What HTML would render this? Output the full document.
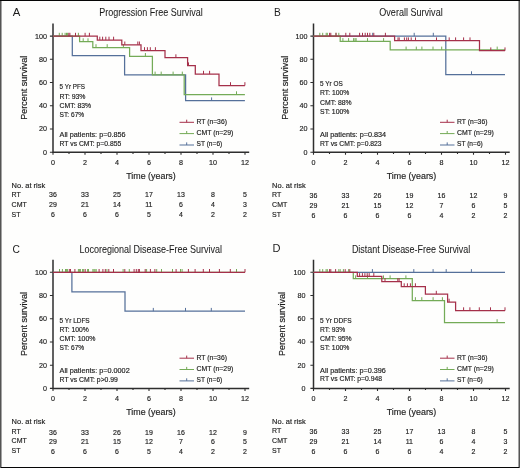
<!DOCTYPE html><html><head><meta charset="utf-8"><style>html,body{margin:0;padding:0;background:#fefefd;}svg{display:block;will-change:transform;}text{font-family:"Liberation Sans", sans-serif;}</style></head><body>
<svg width="520" height="468" viewBox="0 0 520 468">
<rect x="0" y="0" width="520" height="468" fill="#fefefd"/>
<text x="12.7" y="15.9" font-size="11" text-anchor="start" textLength="7.6" lengthAdjust="spacingAndGlyphs" fill="#1c1c1c" stroke="#1c1c1c" stroke-width="0">A</text>
<text x="151" y="16.3" font-size="10.2" text-anchor="middle" textLength="103.4" lengthAdjust="spacingAndGlyphs" fill="#1c1c1c" stroke="#1c1c1c" stroke-width="0.05">Progression Free Survival</text>
<path d="M53 23.6V152.2H249.2" fill="none" stroke="#2e2e2e" stroke-width="1.5"/>
<path d="M49.9 152.2H53M49.9 128.98H53M49.9 105.76H53M49.9 82.54H53M49.9 59.32H53M49.9 36.1H53M53 152.2v2.6M69 152.2v1.7M85 152.2v2.6M101 152.2v1.7M117 152.2v2.6M133 152.2v1.7M149 152.2v2.6M165 152.2v1.7M181 152.2v2.6M197 152.2v1.7M213 152.2v2.6M229 152.2v1.7M245 152.2v2.6" fill="none" stroke="#2e2e2e" stroke-width="1.1"/>
<text x="47" y="154.7" font-size="8.1" text-anchor="end" textLength="4" lengthAdjust="spacingAndGlyphs" fill="#1c1c1c" stroke="#1c1c1c" stroke-width="0.17">0</text>
<text x="47" y="131.48" font-size="8.1" text-anchor="end" textLength="8.01" lengthAdjust="spacingAndGlyphs" fill="#1c1c1c" stroke="#1c1c1c" stroke-width="0.17">20</text>
<text x="47" y="108.26" font-size="8.1" text-anchor="end" textLength="8.01" lengthAdjust="spacingAndGlyphs" fill="#1c1c1c" stroke="#1c1c1c" stroke-width="0.17">40</text>
<text x="47" y="85.04" font-size="8.1" text-anchor="end" textLength="8.01" lengthAdjust="spacingAndGlyphs" fill="#1c1c1c" stroke="#1c1c1c" stroke-width="0.17">60</text>
<text x="47" y="61.82" font-size="8.1" text-anchor="end" textLength="8.01" lengthAdjust="spacingAndGlyphs" fill="#1c1c1c" stroke="#1c1c1c" stroke-width="0.17">80</text>
<text x="47" y="38.6" font-size="8.1" text-anchor="end" textLength="12.01" lengthAdjust="spacingAndGlyphs" fill="#1c1c1c" stroke="#1c1c1c" stroke-width="0.17">100</text>
<text x="53" y="165.1" font-size="8.1" text-anchor="middle" textLength="4" lengthAdjust="spacingAndGlyphs" fill="#1c1c1c" stroke="#1c1c1c" stroke-width="0.17">0</text>
<text x="85" y="165.1" font-size="8.1" text-anchor="middle" textLength="4" lengthAdjust="spacingAndGlyphs" fill="#1c1c1c" stroke="#1c1c1c" stroke-width="0.17">2</text>
<text x="117" y="165.1" font-size="8.1" text-anchor="middle" textLength="4" lengthAdjust="spacingAndGlyphs" fill="#1c1c1c" stroke="#1c1c1c" stroke-width="0.17">4</text>
<text x="149" y="165.1" font-size="8.1" text-anchor="middle" textLength="4" lengthAdjust="spacingAndGlyphs" fill="#1c1c1c" stroke="#1c1c1c" stroke-width="0.17">6</text>
<text x="181" y="165.1" font-size="8.1" text-anchor="middle" textLength="4" lengthAdjust="spacingAndGlyphs" fill="#1c1c1c" stroke="#1c1c1c" stroke-width="0.17">8</text>
<text x="213" y="165.1" font-size="8.1" text-anchor="middle" textLength="8.01" lengthAdjust="spacingAndGlyphs" fill="#1c1c1c" stroke="#1c1c1c" stroke-width="0.17">10</text>
<text x="245" y="165.1" font-size="8.1" text-anchor="middle" textLength="8.01" lengthAdjust="spacingAndGlyphs" fill="#1c1c1c" stroke="#1c1c1c" stroke-width="0.17">12</text>
<text x="151" y="178.5" font-size="9.4" text-anchor="middle" textLength="49.5" lengthAdjust="spacingAndGlyphs" fill="#1c1c1c" stroke="#1c1c1c" stroke-width="0.17">Time (years)</text>
<text x="0" y="0" font-size="9.4" text-anchor="middle" fill="#1c1c1c" stroke="#1c1c1c" stroke-width="0.17" textLength="64" lengthAdjust="spacingAndGlyphs" transform="translate(27 87.8) rotate(-90)">Percent survival</text>
<path d="M52.9 36.1H72.3V55.7H124.6V74.9H185.6V100.7H244.9" fill="none" stroke="#55709a" stroke-width="1.25"/>
<path d="M211.6 100.7v-3.3" fill="none" stroke="#55709a" stroke-width="1.0"/>
<path d="M52.9 36.1H79.6V41.6H92.8V47.5H129.6V56.3H152.4V74.9H184.2V94.6H244.9" fill="none" stroke="#74ab57" stroke-width="1.25"/>
<path d="M59.3 36.1v-3.3M62.2 36.1v-3.3M65.1 36.1v-3.3M66.5 36.1v-3.3M67.6 36.1v-3.3M78.4 36.1v-3.3M83.2 41.6v-3.3M88 41.6v-3.3M96 47.5v-3.3M107.2 47.5v-3.3M123.4 47.5v-3.3M145.4 56.3v-3.3M155.1 74.9v-3.3M161.2 74.9v-3.3M173.1 74.9v-3.3M182.3 74.9v-3.3M236.5 94.6v-3.3" fill="none" stroke="#74ab57" stroke-width="1.0"/>
<path d="M52.9 36.1H97.3V40H121.8V44.8H141V50.5H165V57.6H187.6V65.7H195.3V74.1H219V85.5H244.9" fill="none" stroke="#a5304a" stroke-width="1.25"/>
<path d="M68.8 36.1v-3.3M69.9 36.1v-3.3M75.5 36.1v-3.3M85.1 36.1v-3.3M89.4 36.1v-3.3M99.8 40v-3.3M102.6 40v-3.3M105.8 40v-3.3M109 40v-3.3M113.6 40v-3.3M124.8 44.8v-3.3M137.8 44.8v-3.3M139.4 44.8v-3.3M144.5 50.5v-3.3M147.4 50.5v-3.3M150.3 50.5v-3.3M155.4 50.5v-3.3M175.9 57.6v-3.3M188.5 65.7v-3.3M203.5 74.1v-3.3M209.6 74.1v-3.3M230.5 85.5v-3.3M244.9 85.5v-3.3" fill="none" stroke="#a5304a" stroke-width="1.0"/>
<text x="59.6" y="89.1" font-size="7.4" text-anchor="start" textLength="25.4" lengthAdjust="spacingAndGlyphs" fill="#1c1c1c" stroke="#1c1c1c" stroke-width="0.17">5 Yr PFS</text>
<text x="59.6" y="98.5" font-size="7.4" text-anchor="start" textLength="25.9" lengthAdjust="spacingAndGlyphs" fill="#1c1c1c" stroke="#1c1c1c" stroke-width="0.17">RT: 93%</text>
<text x="59.6" y="107.5" font-size="7.4" text-anchor="start" textLength="31.5" lengthAdjust="spacingAndGlyphs" fill="#1c1c1c" stroke="#1c1c1c" stroke-width="0.17">CMT: 83%</text>
<text x="59.6" y="116.5" font-size="7.4" text-anchor="start" textLength="24.6" lengthAdjust="spacingAndGlyphs" fill="#1c1c1c" stroke="#1c1c1c" stroke-width="0.17">ST: 67%</text>
<text x="59.6" y="137.2" font-size="7.4" text-anchor="start" textLength="66" lengthAdjust="spacingAndGlyphs" fill="#1c1c1c" stroke="#1c1c1c" stroke-width="0.17">All patients: p=0.856</text>
<text x="59.6" y="145.8" font-size="7.4" text-anchor="start" textLength="61.7" lengthAdjust="spacingAndGlyphs" fill="#1c1c1c" stroke="#1c1c1c" stroke-width="0.17">RT vs CMT: p=0.855</text>
<path d="M179.5 122.3H194M186.7 122.3v-2.6" fill="none" stroke="#a5304a" stroke-width="1.0"/>
<text x="196.5" y="123.6" font-size="7.3" text-anchor="start" textLength="30.4" lengthAdjust="spacingAndGlyphs" fill="#1c1c1c" stroke="#1c1c1c" stroke-width="0.17">RT (n=36)</text>
<path d="M179.5 133.6H194M186.7 133.6v-2.6" fill="none" stroke="#74ab57" stroke-width="1.0"/>
<text x="196.5" y="135" font-size="7.3" text-anchor="start" textLength="36.8" lengthAdjust="spacingAndGlyphs" fill="#1c1c1c" stroke="#1c1c1c" stroke-width="0.17">CMT (n=29)</text>
<path d="M179.5 145H194M186.7 145v-2.6" fill="none" stroke="#55709a" stroke-width="1.0"/>
<text x="196.5" y="146.4" font-size="7.3" text-anchor="start" textLength="25.8" lengthAdjust="spacingAndGlyphs" fill="#1c1c1c" stroke="#1c1c1c" stroke-width="0.17">ST (n=6)</text>
<text x="11.6" y="187.6" font-size="8" text-anchor="start" textLength="33.6" lengthAdjust="spacingAndGlyphs" fill="#1c1c1c" stroke="#1c1c1c" stroke-width="0.17">No. at risk</text>
<text x="11.6" y="197" font-size="8" text-anchor="start" textLength="9.2" lengthAdjust="spacingAndGlyphs" fill="#1c1c1c" stroke="#1c1c1c" stroke-width="0.17">RT</text>
<text x="52.9" y="197" font-size="8" text-anchor="middle" textLength="7.79" lengthAdjust="spacingAndGlyphs" fill="#1c1c1c" stroke="#1c1c1c" stroke-width="0.17">36</text>
<text x="84.9" y="197" font-size="8" text-anchor="middle" textLength="7.79" lengthAdjust="spacingAndGlyphs" fill="#1c1c1c" stroke="#1c1c1c" stroke-width="0.17">33</text>
<text x="116.9" y="197" font-size="8" text-anchor="middle" textLength="7.79" lengthAdjust="spacingAndGlyphs" fill="#1c1c1c" stroke="#1c1c1c" stroke-width="0.17">25</text>
<text x="148.9" y="197" font-size="8" text-anchor="middle" textLength="7.79" lengthAdjust="spacingAndGlyphs" fill="#1c1c1c" stroke="#1c1c1c" stroke-width="0.17">17</text>
<text x="180.9" y="197" font-size="8" text-anchor="middle" textLength="7.79" lengthAdjust="spacingAndGlyphs" fill="#1c1c1c" stroke="#1c1c1c" stroke-width="0.17">13</text>
<text x="212.9" y="197" font-size="8" text-anchor="middle" textLength="3.89" lengthAdjust="spacingAndGlyphs" fill="#1c1c1c" stroke="#1c1c1c" stroke-width="0.17">8</text>
<text x="244.9" y="197" font-size="8" text-anchor="middle" textLength="3.89" lengthAdjust="spacingAndGlyphs" fill="#1c1c1c" stroke="#1c1c1c" stroke-width="0.17">5</text>
<text x="11.6" y="206.9" font-size="8" text-anchor="start" textLength="15.16" lengthAdjust="spacingAndGlyphs" fill="#1c1c1c" stroke="#1c1c1c" stroke-width="0.17">CMT</text>
<text x="52.9" y="206.9" font-size="8" text-anchor="middle" textLength="7.79" lengthAdjust="spacingAndGlyphs" fill="#1c1c1c" stroke="#1c1c1c" stroke-width="0.17">29</text>
<text x="84.9" y="206.9" font-size="8" text-anchor="middle" textLength="7.79" lengthAdjust="spacingAndGlyphs" fill="#1c1c1c" stroke="#1c1c1c" stroke-width="0.17">21</text>
<text x="116.9" y="206.9" font-size="8" text-anchor="middle" textLength="7.79" lengthAdjust="spacingAndGlyphs" fill="#1c1c1c" stroke="#1c1c1c" stroke-width="0.17">14</text>
<text x="148.9" y="206.9" font-size="8" text-anchor="middle" textLength="7.27" lengthAdjust="spacingAndGlyphs" fill="#1c1c1c" stroke="#1c1c1c" stroke-width="0.17">11</text>
<text x="180.9" y="206.9" font-size="8" text-anchor="middle" textLength="3.89" lengthAdjust="spacingAndGlyphs" fill="#1c1c1c" stroke="#1c1c1c" stroke-width="0.17">6</text>
<text x="212.9" y="206.9" font-size="8" text-anchor="middle" textLength="3.89" lengthAdjust="spacingAndGlyphs" fill="#1c1c1c" stroke="#1c1c1c" stroke-width="0.17">4</text>
<text x="244.9" y="206.9" font-size="8" text-anchor="middle" textLength="3.89" lengthAdjust="spacingAndGlyphs" fill="#1c1c1c" stroke="#1c1c1c" stroke-width="0.17">3</text>
<text x="11.6" y="216.6" font-size="8" text-anchor="start" textLength="8.94" lengthAdjust="spacingAndGlyphs" fill="#1c1c1c" stroke="#1c1c1c" stroke-width="0.17">ST</text>
<text x="52.9" y="216.6" font-size="8" text-anchor="middle" textLength="3.89" lengthAdjust="spacingAndGlyphs" fill="#1c1c1c" stroke="#1c1c1c" stroke-width="0.17">6</text>
<text x="84.9" y="216.6" font-size="8" text-anchor="middle" textLength="3.89" lengthAdjust="spacingAndGlyphs" fill="#1c1c1c" stroke="#1c1c1c" stroke-width="0.17">6</text>
<text x="116.9" y="216.6" font-size="8" text-anchor="middle" textLength="3.89" lengthAdjust="spacingAndGlyphs" fill="#1c1c1c" stroke="#1c1c1c" stroke-width="0.17">6</text>
<text x="148.9" y="216.6" font-size="8" text-anchor="middle" textLength="3.89" lengthAdjust="spacingAndGlyphs" fill="#1c1c1c" stroke="#1c1c1c" stroke-width="0.17">5</text>
<text x="180.9" y="216.6" font-size="8" text-anchor="middle" textLength="3.89" lengthAdjust="spacingAndGlyphs" fill="#1c1c1c" stroke="#1c1c1c" stroke-width="0.17">4</text>
<text x="212.9" y="216.6" font-size="8" text-anchor="middle" textLength="3.89" lengthAdjust="spacingAndGlyphs" fill="#1c1c1c" stroke="#1c1c1c" stroke-width="0.17">2</text>
<text x="244.9" y="216.6" font-size="8" text-anchor="middle" textLength="3.89" lengthAdjust="spacingAndGlyphs" fill="#1c1c1c" stroke="#1c1c1c" stroke-width="0.17">2</text>
<text x="273.9" y="15.8" font-size="11" text-anchor="start" textLength="6.8" lengthAdjust="spacingAndGlyphs" fill="#1c1c1c" stroke="#1c1c1c" stroke-width="0">B</text>
<text x="411" y="16.3" font-size="10.2" text-anchor="middle" textLength="63.4" lengthAdjust="spacingAndGlyphs" fill="#1c1c1c" stroke="#1c1c1c" stroke-width="0.05">Overall Survival</text>
<path d="M313.5 23.6V152.2H509.7" fill="none" stroke="#2e2e2e" stroke-width="1.5"/>
<path d="M310.4 152.2H313.5M310.4 128.98H313.5M310.4 105.76H313.5M310.4 82.54H313.5M310.4 59.32H313.5M310.4 36.1H313.5M313.5 152.2v2.6M329.5 152.2v1.7M345.5 152.2v2.6M361.5 152.2v1.7M377.5 152.2v2.6M393.5 152.2v1.7M409.5 152.2v2.6M425.5 152.2v1.7M441.5 152.2v2.6M457.5 152.2v1.7M473.5 152.2v2.6M489.5 152.2v1.7M505.5 152.2v2.6" fill="none" stroke="#2e2e2e" stroke-width="1.1"/>
<text x="307.5" y="154.7" font-size="8.1" text-anchor="end" textLength="4" lengthAdjust="spacingAndGlyphs" fill="#1c1c1c" stroke="#1c1c1c" stroke-width="0.17">0</text>
<text x="307.5" y="131.48" font-size="8.1" text-anchor="end" textLength="8.01" lengthAdjust="spacingAndGlyphs" fill="#1c1c1c" stroke="#1c1c1c" stroke-width="0.17">20</text>
<text x="307.5" y="108.26" font-size="8.1" text-anchor="end" textLength="8.01" lengthAdjust="spacingAndGlyphs" fill="#1c1c1c" stroke="#1c1c1c" stroke-width="0.17">40</text>
<text x="307.5" y="85.04" font-size="8.1" text-anchor="end" textLength="8.01" lengthAdjust="spacingAndGlyphs" fill="#1c1c1c" stroke="#1c1c1c" stroke-width="0.17">60</text>
<text x="307.5" y="61.82" font-size="8.1" text-anchor="end" textLength="8.01" lengthAdjust="spacingAndGlyphs" fill="#1c1c1c" stroke="#1c1c1c" stroke-width="0.17">80</text>
<text x="307.5" y="38.6" font-size="8.1" text-anchor="end" textLength="12.01" lengthAdjust="spacingAndGlyphs" fill="#1c1c1c" stroke="#1c1c1c" stroke-width="0.17">100</text>
<text x="313.5" y="165.1" font-size="8.1" text-anchor="middle" textLength="4" lengthAdjust="spacingAndGlyphs" fill="#1c1c1c" stroke="#1c1c1c" stroke-width="0.17">0</text>
<text x="345.5" y="165.1" font-size="8.1" text-anchor="middle" textLength="4" lengthAdjust="spacingAndGlyphs" fill="#1c1c1c" stroke="#1c1c1c" stroke-width="0.17">2</text>
<text x="377.5" y="165.1" font-size="8.1" text-anchor="middle" textLength="4" lengthAdjust="spacingAndGlyphs" fill="#1c1c1c" stroke="#1c1c1c" stroke-width="0.17">4</text>
<text x="409.5" y="165.1" font-size="8.1" text-anchor="middle" textLength="4" lengthAdjust="spacingAndGlyphs" fill="#1c1c1c" stroke="#1c1c1c" stroke-width="0.17">6</text>
<text x="441.5" y="165.1" font-size="8.1" text-anchor="middle" textLength="4" lengthAdjust="spacingAndGlyphs" fill="#1c1c1c" stroke="#1c1c1c" stroke-width="0.17">8</text>
<text x="473.5" y="165.1" font-size="8.1" text-anchor="middle" textLength="8.01" lengthAdjust="spacingAndGlyphs" fill="#1c1c1c" stroke="#1c1c1c" stroke-width="0.17">10</text>
<text x="505.5" y="165.1" font-size="8.1" text-anchor="middle" textLength="8.01" lengthAdjust="spacingAndGlyphs" fill="#1c1c1c" stroke="#1c1c1c" stroke-width="0.17">12</text>
<text x="411.5" y="178.5" font-size="9.4" text-anchor="middle" textLength="49.5" lengthAdjust="spacingAndGlyphs" fill="#1c1c1c" stroke="#1c1c1c" stroke-width="0.17">Time (years)</text>
<text x="0" y="0" font-size="9.4" text-anchor="middle" fill="#1c1c1c" stroke="#1c1c1c" stroke-width="0.17" textLength="64" lengthAdjust="spacingAndGlyphs" transform="translate(287.5 87.8) rotate(-90)">Percent survival</text>
<path d="M313.4 36.1H445.8V74.6H505" fill="none" stroke="#55709a" stroke-width="1.25"/>
<path d="M372.7 36.1v-3.3M414.2 36.1v-3.3M433.3 36.1v-3.3M471.5 74.6v-3.3" fill="none" stroke="#55709a" stroke-width="1.0"/>
<path d="M313.4 36.1H340.2V41.4H390.2V49.9H505" fill="none" stroke="#74ab57" stroke-width="1.25"/>
<path d="M319.8 36.1v-3.3M322.7 36.1v-3.3M326.2 36.1v-3.3M327.3 36.1v-3.3M336 36.1v-3.3M338.8 36.1v-3.3M342.9 41.4v-3.3M348.6 41.4v-3.3M353.6 41.4v-3.3M355 41.4v-3.3M356.1 41.4v-3.3M367.5 41.4v-3.3M383.6 41.4v-3.3M406.1 49.9v-3.3M416.3 49.9v-3.3M421.9 49.9v-3.3M433 49.9v-3.3M441.7 49.9v-3.3M497.2 49.9v-3.3" fill="none" stroke="#74ab57" stroke-width="1.0"/>
<path d="M313.4 36.1H394.6V40.7H479.5V50.7H505" fill="none" stroke="#a5304a" stroke-width="1.25"/>
<path d="M329.6 36.1v-3.3M330.8 36.1v-3.3M336 36.1v-3.3M345.8 36.1v-3.3M349.8 36.1v-3.3M359.6 36.1v-3.3M362.5 36.1v-3.3M365.2 36.1v-3.3M367.5 36.1v-3.3M369.8 36.1v-3.3M373.8 36.1v-3.3M385.4 36.1v-3.3M398 40.7v-3.3M399.2 40.7v-3.3M404.4 40.7v-3.3M406.7 40.7v-3.3M408.4 40.7v-3.3M411.2 40.7v-3.3M415.5 40.7v-3.3M436.5 40.7v-3.3M449.2 40.7v-3.3M455.6 40.7v-3.3M463.6 40.7v-3.3M470 40.7v-3.3M490.8 50.7v-3.3M505 50.7v-3.3" fill="none" stroke="#a5304a" stroke-width="1.0"/>
<text x="320.1" y="86.2" font-size="7.4" text-anchor="start" textLength="22.7" lengthAdjust="spacingAndGlyphs" fill="#1c1c1c" stroke="#1c1c1c" stroke-width="0.17">5 Yr OS</text>
<text x="320.1" y="95.4" font-size="7.4" text-anchor="start" textLength="29.2" lengthAdjust="spacingAndGlyphs" fill="#1c1c1c" stroke="#1c1c1c" stroke-width="0.17">RT: 100%</text>
<text x="320.1" y="104.6" font-size="7.4" text-anchor="start" textLength="31.5" lengthAdjust="spacingAndGlyphs" fill="#1c1c1c" stroke="#1c1c1c" stroke-width="0.17">CMT: 88%</text>
<text x="320.1" y="113.8" font-size="7.4" text-anchor="start" textLength="29.2" lengthAdjust="spacingAndGlyphs" fill="#1c1c1c" stroke="#1c1c1c" stroke-width="0.17">ST: 100%</text>
<text x="320.1" y="136.7" font-size="7.4" text-anchor="start" textLength="66" lengthAdjust="spacingAndGlyphs" fill="#1c1c1c" stroke="#1c1c1c" stroke-width="0.17">All patients: p=0.834</text>
<text x="320.1" y="145.5" font-size="7.4" text-anchor="start" textLength="61.5" lengthAdjust="spacingAndGlyphs" fill="#1c1c1c" stroke="#1c1c1c" stroke-width="0.17">RT vs CMT: p=0.823</text>
<path d="M440 122.3H454.5M447.2 122.3v-2.6" fill="none" stroke="#a5304a" stroke-width="1.0"/>
<text x="457" y="123.6" font-size="7.3" text-anchor="start" textLength="30.4" lengthAdjust="spacingAndGlyphs" fill="#1c1c1c" stroke="#1c1c1c" stroke-width="0.17">RT (n=36)</text>
<path d="M440 133.6H454.5M447.2 133.6v-2.6" fill="none" stroke="#74ab57" stroke-width="1.0"/>
<text x="457" y="135" font-size="7.3" text-anchor="start" textLength="36.8" lengthAdjust="spacingAndGlyphs" fill="#1c1c1c" stroke="#1c1c1c" stroke-width="0.17">CMT (n=29)</text>
<path d="M440 145H454.5M447.2 145v-2.6" fill="none" stroke="#55709a" stroke-width="1.0"/>
<text x="457" y="146.4" font-size="7.3" text-anchor="start" textLength="25.8" lengthAdjust="spacingAndGlyphs" fill="#1c1c1c" stroke="#1c1c1c" stroke-width="0.17">ST (n=6)</text>
<text x="272.1" y="187.6" font-size="8" text-anchor="start" textLength="33.6" lengthAdjust="spacingAndGlyphs" fill="#1c1c1c" stroke="#1c1c1c" stroke-width="0.17">No. at risk</text>
<text x="272.1" y="197" font-size="8" text-anchor="start" textLength="9.2" lengthAdjust="spacingAndGlyphs" fill="#1c1c1c" stroke="#1c1c1c" stroke-width="0.17">RT</text>
<text x="313.4" y="198" font-size="8" text-anchor="middle" textLength="7.79" lengthAdjust="spacingAndGlyphs" fill="#1c1c1c" stroke="#1c1c1c" stroke-width="0.17">36</text>
<text x="345.4" y="198" font-size="8" text-anchor="middle" textLength="7.79" lengthAdjust="spacingAndGlyphs" fill="#1c1c1c" stroke="#1c1c1c" stroke-width="0.17">33</text>
<text x="377.4" y="198" font-size="8" text-anchor="middle" textLength="7.79" lengthAdjust="spacingAndGlyphs" fill="#1c1c1c" stroke="#1c1c1c" stroke-width="0.17">26</text>
<text x="409.4" y="198" font-size="8" text-anchor="middle" textLength="7.79" lengthAdjust="spacingAndGlyphs" fill="#1c1c1c" stroke="#1c1c1c" stroke-width="0.17">19</text>
<text x="441.4" y="198" font-size="8" text-anchor="middle" textLength="7.79" lengthAdjust="spacingAndGlyphs" fill="#1c1c1c" stroke="#1c1c1c" stroke-width="0.17">16</text>
<text x="473.4" y="198" font-size="8" text-anchor="middle" textLength="7.79" lengthAdjust="spacingAndGlyphs" fill="#1c1c1c" stroke="#1c1c1c" stroke-width="0.17">12</text>
<text x="505.4" y="198" font-size="8" text-anchor="middle" textLength="3.89" lengthAdjust="spacingAndGlyphs" fill="#1c1c1c" stroke="#1c1c1c" stroke-width="0.17">9</text>
<text x="272.1" y="206.9" font-size="8" text-anchor="start" textLength="15.16" lengthAdjust="spacingAndGlyphs" fill="#1c1c1c" stroke="#1c1c1c" stroke-width="0.17">CMT</text>
<text x="313.4" y="207.9" font-size="8" text-anchor="middle" textLength="7.79" lengthAdjust="spacingAndGlyphs" fill="#1c1c1c" stroke="#1c1c1c" stroke-width="0.17">29</text>
<text x="345.4" y="207.9" font-size="8" text-anchor="middle" textLength="7.79" lengthAdjust="spacingAndGlyphs" fill="#1c1c1c" stroke="#1c1c1c" stroke-width="0.17">21</text>
<text x="377.4" y="207.9" font-size="8" text-anchor="middle" textLength="7.79" lengthAdjust="spacingAndGlyphs" fill="#1c1c1c" stroke="#1c1c1c" stroke-width="0.17">15</text>
<text x="409.4" y="207.9" font-size="8" text-anchor="middle" textLength="7.79" lengthAdjust="spacingAndGlyphs" fill="#1c1c1c" stroke="#1c1c1c" stroke-width="0.17">12</text>
<text x="441.4" y="207.9" font-size="8" text-anchor="middle" textLength="3.89" lengthAdjust="spacingAndGlyphs" fill="#1c1c1c" stroke="#1c1c1c" stroke-width="0.17">7</text>
<text x="473.4" y="207.9" font-size="8" text-anchor="middle" textLength="3.89" lengthAdjust="spacingAndGlyphs" fill="#1c1c1c" stroke="#1c1c1c" stroke-width="0.17">6</text>
<text x="505.4" y="207.9" font-size="8" text-anchor="middle" textLength="3.89" lengthAdjust="spacingAndGlyphs" fill="#1c1c1c" stroke="#1c1c1c" stroke-width="0.17">5</text>
<text x="272.1" y="216.6" font-size="8" text-anchor="start" textLength="8.94" lengthAdjust="spacingAndGlyphs" fill="#1c1c1c" stroke="#1c1c1c" stroke-width="0.17">ST</text>
<text x="313.4" y="217.6" font-size="8" text-anchor="middle" textLength="3.89" lengthAdjust="spacingAndGlyphs" fill="#1c1c1c" stroke="#1c1c1c" stroke-width="0.17">6</text>
<text x="345.4" y="217.6" font-size="8" text-anchor="middle" textLength="3.89" lengthAdjust="spacingAndGlyphs" fill="#1c1c1c" stroke="#1c1c1c" stroke-width="0.17">6</text>
<text x="377.4" y="217.6" font-size="8" text-anchor="middle" textLength="3.89" lengthAdjust="spacingAndGlyphs" fill="#1c1c1c" stroke="#1c1c1c" stroke-width="0.17">6</text>
<text x="409.4" y="217.6" font-size="8" text-anchor="middle" textLength="3.89" lengthAdjust="spacingAndGlyphs" fill="#1c1c1c" stroke="#1c1c1c" stroke-width="0.17">6</text>
<text x="441.4" y="217.6" font-size="8" text-anchor="middle" textLength="3.89" lengthAdjust="spacingAndGlyphs" fill="#1c1c1c" stroke="#1c1c1c" stroke-width="0.17">4</text>
<text x="473.4" y="217.6" font-size="8" text-anchor="middle" textLength="3.89" lengthAdjust="spacingAndGlyphs" fill="#1c1c1c" stroke="#1c1c1c" stroke-width="0.17">2</text>
<text x="505.4" y="217.6" font-size="8" text-anchor="middle" textLength="3.89" lengthAdjust="spacingAndGlyphs" fill="#1c1c1c" stroke="#1c1c1c" stroke-width="0.17">2</text>
<text x="12.5" y="252.7" font-size="11" text-anchor="start" textLength="7.4" lengthAdjust="spacingAndGlyphs" fill="#1c1c1c" stroke="#1c1c1c" stroke-width="0">C</text>
<text x="150.8" y="253" font-size="10.2" text-anchor="middle" textLength="142.6" lengthAdjust="spacingAndGlyphs" fill="#1c1c1c" stroke="#1c1c1c" stroke-width="0.05">Locoregional Disease-Free Survival</text>
<path d="M53 259.8V388.4H249.2" fill="none" stroke="#2e2e2e" stroke-width="1.5"/>
<path d="M49.9 388.4H53M49.9 365.18H53M49.9 341.96H53M49.9 318.74H53M49.9 295.52H53M49.9 272.3H53M53 388.4v2.6M69 388.4v1.7M85 388.4v2.6M101 388.4v1.7M117 388.4v2.6M133 388.4v1.7M149 388.4v2.6M165 388.4v1.7M181 388.4v2.6M197 388.4v1.7M213 388.4v2.6M229 388.4v1.7M245 388.4v2.6" fill="none" stroke="#2e2e2e" stroke-width="1.1"/>
<text x="47" y="390.9" font-size="8.1" text-anchor="end" textLength="4" lengthAdjust="spacingAndGlyphs" fill="#1c1c1c" stroke="#1c1c1c" stroke-width="0.17">0</text>
<text x="47" y="367.68" font-size="8.1" text-anchor="end" textLength="8.01" lengthAdjust="spacingAndGlyphs" fill="#1c1c1c" stroke="#1c1c1c" stroke-width="0.17">20</text>
<text x="47" y="344.46" font-size="8.1" text-anchor="end" textLength="8.01" lengthAdjust="spacingAndGlyphs" fill="#1c1c1c" stroke="#1c1c1c" stroke-width="0.17">40</text>
<text x="47" y="321.24" font-size="8.1" text-anchor="end" textLength="8.01" lengthAdjust="spacingAndGlyphs" fill="#1c1c1c" stroke="#1c1c1c" stroke-width="0.17">60</text>
<text x="47" y="298.02" font-size="8.1" text-anchor="end" textLength="8.01" lengthAdjust="spacingAndGlyphs" fill="#1c1c1c" stroke="#1c1c1c" stroke-width="0.17">80</text>
<text x="47" y="274.8" font-size="8.1" text-anchor="end" textLength="12.01" lengthAdjust="spacingAndGlyphs" fill="#1c1c1c" stroke="#1c1c1c" stroke-width="0.17">100</text>
<text x="53" y="401.3" font-size="8.1" text-anchor="middle" textLength="4" lengthAdjust="spacingAndGlyphs" fill="#1c1c1c" stroke="#1c1c1c" stroke-width="0.17">0</text>
<text x="85" y="401.3" font-size="8.1" text-anchor="middle" textLength="4" lengthAdjust="spacingAndGlyphs" fill="#1c1c1c" stroke="#1c1c1c" stroke-width="0.17">2</text>
<text x="117" y="401.3" font-size="8.1" text-anchor="middle" textLength="4" lengthAdjust="spacingAndGlyphs" fill="#1c1c1c" stroke="#1c1c1c" stroke-width="0.17">4</text>
<text x="149" y="401.3" font-size="8.1" text-anchor="middle" textLength="4" lengthAdjust="spacingAndGlyphs" fill="#1c1c1c" stroke="#1c1c1c" stroke-width="0.17">6</text>
<text x="181" y="401.3" font-size="8.1" text-anchor="middle" textLength="4" lengthAdjust="spacingAndGlyphs" fill="#1c1c1c" stroke="#1c1c1c" stroke-width="0.17">8</text>
<text x="213" y="401.3" font-size="8.1" text-anchor="middle" textLength="8.01" lengthAdjust="spacingAndGlyphs" fill="#1c1c1c" stroke="#1c1c1c" stroke-width="0.17">10</text>
<text x="245" y="401.3" font-size="8.1" text-anchor="middle" textLength="8.01" lengthAdjust="spacingAndGlyphs" fill="#1c1c1c" stroke="#1c1c1c" stroke-width="0.17">12</text>
<text x="151" y="414.7" font-size="9.4" text-anchor="middle" textLength="49.5" lengthAdjust="spacingAndGlyphs" fill="#1c1c1c" stroke="#1c1c1c" stroke-width="0.17">Time (years)</text>
<text x="0" y="0" font-size="9.4" text-anchor="middle" fill="#1c1c1c" stroke="#1c1c1c" stroke-width="0.17" textLength="64" lengthAdjust="spacingAndGlyphs" transform="translate(27 324) rotate(-90)">Percent survival</text>
<path d="M52.9 272.3H71.9V291.8H125V311.2H245" fill="none" stroke="#55709a" stroke-width="1.25"/>
<path d="M153.3 311.2v-3.3M185.5 311.2v-3.3M211.3 311.2v-3.3" fill="none" stroke="#55709a" stroke-width="1.0"/>
<path d="M52.9 272.3H245" fill="none" stroke="#74ab57" stroke-width="1.25"/>
<path d="M59.5 272.3v-3.3M62.4 272.3v-3.3M65.5 272.3v-3.3M66.4 272.3v-3.3M67.4 272.3v-3.3M78.4 272.3v-3.3M79.4 272.3v-3.3M80.4 272.3v-3.3M82.6 272.3v-3.3M83.7 272.3v-3.3M87.6 272.3v-3.3M88.5 272.3v-3.3M92.9 272.3v-3.3M94 272.3v-3.3M95 272.3v-3.3M96.2 272.3v-3.3M106.9 272.3v-3.3M123.1 272.3v-3.3M129.3 272.3v-3.3M146.6 272.3v-3.3M156.7 272.3v-3.3M161.5 272.3v-3.3M172.5 272.3v-3.3M180.5 272.3v-3.3M182.1 272.3v-3.3M236.5 272.3v-3.3" fill="none" stroke="#74ab57" stroke-width="1.0"/>
<path d="M52.9 272.3H245" fill="none" stroke="#a5304a" stroke-width="1.25"/>
<path d="M69.3 272.3v-3.3M70.5 272.3v-3.3M74.9 272.3v-3.3M85.2 272.3v-3.3M99.1 272.3v-3.3M102.9 272.3v-3.3M105.3 272.3v-3.3M108.8 272.3v-3.3M113.5 272.3v-3.3M124.8 272.3v-3.3M134.1 272.3v-3.3M136.3 272.3v-3.3M138.3 272.3v-3.3M139.4 272.3v-3.3M145.2 272.3v-3.3M150.4 272.3v-3.3M154.9 272.3v-3.3M176.1 272.3v-3.3M188.4 272.3v-3.3M195.1 272.3v-3.3M203.3 272.3v-3.3M209.5 272.3v-3.3M219.4 272.3v-3.3M230.3 272.3v-3.3M245 272.3v-3.3" fill="none" stroke="#a5304a" stroke-width="1.0"/>
<text x="59.6" y="322.5" font-size="7.4" text-anchor="start" textLength="30.1" lengthAdjust="spacingAndGlyphs" fill="#1c1c1c" stroke="#1c1c1c" stroke-width="0.17">5 Yr LDFS</text>
<text x="59.6" y="331.6" font-size="7.4" text-anchor="start" textLength="29.2" lengthAdjust="spacingAndGlyphs" fill="#1c1c1c" stroke="#1c1c1c" stroke-width="0.17">RT: 100%</text>
<text x="59.6" y="340.8" font-size="7.4" text-anchor="start" textLength="35.8" lengthAdjust="spacingAndGlyphs" fill="#1c1c1c" stroke="#1c1c1c" stroke-width="0.17">CMT: 100%</text>
<text x="59.6" y="350" font-size="7.4" text-anchor="start" textLength="24.6" lengthAdjust="spacingAndGlyphs" fill="#1c1c1c" stroke="#1c1c1c" stroke-width="0.17">ST: 67%</text>
<text x="59.6" y="372.8" font-size="7.4" text-anchor="start" textLength="70.1" lengthAdjust="spacingAndGlyphs" fill="#1c1c1c" stroke="#1c1c1c" stroke-width="0.17">All patients: p=0.0002</text>
<text x="59.6" y="381.6" font-size="7.4" text-anchor="start" textLength="58.3" lengthAdjust="spacingAndGlyphs" fill="#1c1c1c" stroke="#1c1c1c" stroke-width="0.17">RT vs CMT: p&gt;0.99</text>
<path d="M179.5 358.2H194M186.7 358.2v-2.6" fill="none" stroke="#a5304a" stroke-width="1.0"/>
<text x="196.5" y="359.5" font-size="7.3" text-anchor="start" textLength="30.4" lengthAdjust="spacingAndGlyphs" fill="#1c1c1c" stroke="#1c1c1c" stroke-width="0.17">RT (n=36)</text>
<path d="M179.5 369.5H194M186.7 369.5v-2.6" fill="none" stroke="#74ab57" stroke-width="1.0"/>
<text x="196.5" y="370.9" font-size="7.3" text-anchor="start" textLength="36.8" lengthAdjust="spacingAndGlyphs" fill="#1c1c1c" stroke="#1c1c1c" stroke-width="0.17">CMT (n=29)</text>
<path d="M179.5 380.9H194M186.7 380.9v-2.6" fill="none" stroke="#55709a" stroke-width="1.0"/>
<text x="196.5" y="382.3" font-size="7.3" text-anchor="start" textLength="25.8" lengthAdjust="spacingAndGlyphs" fill="#1c1c1c" stroke="#1c1c1c" stroke-width="0.17">ST (n=6)</text>
<text x="11.6" y="424.1" font-size="8" text-anchor="start" textLength="33.6" lengthAdjust="spacingAndGlyphs" fill="#1c1c1c" stroke="#1c1c1c" stroke-width="0.17">No. at risk</text>
<text x="11.6" y="433.5" font-size="8" text-anchor="start" textLength="9.2" lengthAdjust="spacingAndGlyphs" fill="#1c1c1c" stroke="#1c1c1c" stroke-width="0.17">RT</text>
<text x="52.9" y="434.5" font-size="8" text-anchor="middle" textLength="7.79" lengthAdjust="spacingAndGlyphs" fill="#1c1c1c" stroke="#1c1c1c" stroke-width="0.17">36</text>
<text x="84.9" y="434.5" font-size="8" text-anchor="middle" textLength="7.79" lengthAdjust="spacingAndGlyphs" fill="#1c1c1c" stroke="#1c1c1c" stroke-width="0.17">33</text>
<text x="116.9" y="434.5" font-size="8" text-anchor="middle" textLength="7.79" lengthAdjust="spacingAndGlyphs" fill="#1c1c1c" stroke="#1c1c1c" stroke-width="0.17">26</text>
<text x="148.9" y="434.5" font-size="8" text-anchor="middle" textLength="7.79" lengthAdjust="spacingAndGlyphs" fill="#1c1c1c" stroke="#1c1c1c" stroke-width="0.17">19</text>
<text x="180.9" y="434.5" font-size="8" text-anchor="middle" textLength="7.79" lengthAdjust="spacingAndGlyphs" fill="#1c1c1c" stroke="#1c1c1c" stroke-width="0.17">16</text>
<text x="212.9" y="434.5" font-size="8" text-anchor="middle" textLength="7.79" lengthAdjust="spacingAndGlyphs" fill="#1c1c1c" stroke="#1c1c1c" stroke-width="0.17">12</text>
<text x="244.9" y="434.5" font-size="8" text-anchor="middle" textLength="3.89" lengthAdjust="spacingAndGlyphs" fill="#1c1c1c" stroke="#1c1c1c" stroke-width="0.17">9</text>
<text x="11.6" y="443.4" font-size="8" text-anchor="start" textLength="15.16" lengthAdjust="spacingAndGlyphs" fill="#1c1c1c" stroke="#1c1c1c" stroke-width="0.17">CMT</text>
<text x="52.9" y="444.4" font-size="8" text-anchor="middle" textLength="7.79" lengthAdjust="spacingAndGlyphs" fill="#1c1c1c" stroke="#1c1c1c" stroke-width="0.17">29</text>
<text x="84.9" y="444.4" font-size="8" text-anchor="middle" textLength="7.79" lengthAdjust="spacingAndGlyphs" fill="#1c1c1c" stroke="#1c1c1c" stroke-width="0.17">21</text>
<text x="116.9" y="444.4" font-size="8" text-anchor="middle" textLength="7.79" lengthAdjust="spacingAndGlyphs" fill="#1c1c1c" stroke="#1c1c1c" stroke-width="0.17">15</text>
<text x="148.9" y="444.4" font-size="8" text-anchor="middle" textLength="7.79" lengthAdjust="spacingAndGlyphs" fill="#1c1c1c" stroke="#1c1c1c" stroke-width="0.17">12</text>
<text x="180.9" y="444.4" font-size="8" text-anchor="middle" textLength="3.89" lengthAdjust="spacingAndGlyphs" fill="#1c1c1c" stroke="#1c1c1c" stroke-width="0.17">7</text>
<text x="212.9" y="444.4" font-size="8" text-anchor="middle" textLength="3.89" lengthAdjust="spacingAndGlyphs" fill="#1c1c1c" stroke="#1c1c1c" stroke-width="0.17">6</text>
<text x="244.9" y="444.4" font-size="8" text-anchor="middle" textLength="3.89" lengthAdjust="spacingAndGlyphs" fill="#1c1c1c" stroke="#1c1c1c" stroke-width="0.17">5</text>
<text x="11.6" y="453.1" font-size="8" text-anchor="start" textLength="8.94" lengthAdjust="spacingAndGlyphs" fill="#1c1c1c" stroke="#1c1c1c" stroke-width="0.17">ST</text>
<text x="52.9" y="454.1" font-size="8" text-anchor="middle" textLength="3.89" lengthAdjust="spacingAndGlyphs" fill="#1c1c1c" stroke="#1c1c1c" stroke-width="0.17">6</text>
<text x="84.9" y="454.1" font-size="8" text-anchor="middle" textLength="3.89" lengthAdjust="spacingAndGlyphs" fill="#1c1c1c" stroke="#1c1c1c" stroke-width="0.17">6</text>
<text x="116.9" y="454.1" font-size="8" text-anchor="middle" textLength="3.89" lengthAdjust="spacingAndGlyphs" fill="#1c1c1c" stroke="#1c1c1c" stroke-width="0.17">6</text>
<text x="148.9" y="454.1" font-size="8" text-anchor="middle" textLength="3.89" lengthAdjust="spacingAndGlyphs" fill="#1c1c1c" stroke="#1c1c1c" stroke-width="0.17">5</text>
<text x="180.9" y="454.1" font-size="8" text-anchor="middle" textLength="3.89" lengthAdjust="spacingAndGlyphs" fill="#1c1c1c" stroke="#1c1c1c" stroke-width="0.17">4</text>
<text x="212.9" y="454.1" font-size="8" text-anchor="middle" textLength="3.89" lengthAdjust="spacingAndGlyphs" fill="#1c1c1c" stroke="#1c1c1c" stroke-width="0.17">2</text>
<text x="244.9" y="454.1" font-size="8" text-anchor="middle" textLength="3.89" lengthAdjust="spacingAndGlyphs" fill="#1c1c1c" stroke="#1c1c1c" stroke-width="0.17">2</text>
<text x="272.6" y="252.4" font-size="11" text-anchor="start" textLength="8" lengthAdjust="spacingAndGlyphs" fill="#1c1c1c" stroke="#1c1c1c" stroke-width="0">D</text>
<text x="411.1" y="253" font-size="10.2" text-anchor="middle" textLength="118.4" lengthAdjust="spacingAndGlyphs" fill="#1c1c1c" stroke="#1c1c1c" stroke-width="0.05">Distant Disease-Free Survival</text>
<path d="M313.5 259.8V388.4H509.7" fill="none" stroke="#2e2e2e" stroke-width="1.5"/>
<path d="M310.4 388.4H313.5M310.4 365.18H313.5M310.4 341.96H313.5M310.4 318.74H313.5M310.4 295.52H313.5M310.4 272.3H313.5M313.5 388.4v2.6M329.5 388.4v1.7M345.5 388.4v2.6M361.5 388.4v1.7M377.5 388.4v2.6M393.5 388.4v1.7M409.5 388.4v2.6M425.5 388.4v1.7M441.5 388.4v2.6M457.5 388.4v1.7M473.5 388.4v2.6M489.5 388.4v1.7M505.5 388.4v2.6" fill="none" stroke="#2e2e2e" stroke-width="1.1"/>
<text x="305.5" y="390.9" font-size="8.1" text-anchor="end" textLength="4" lengthAdjust="spacingAndGlyphs" fill="#1c1c1c" stroke="#1c1c1c" stroke-width="0.17">0</text>
<text x="305.5" y="367.68" font-size="8.1" text-anchor="end" textLength="8.01" lengthAdjust="spacingAndGlyphs" fill="#1c1c1c" stroke="#1c1c1c" stroke-width="0.17">20</text>
<text x="305.5" y="344.46" font-size="8.1" text-anchor="end" textLength="8.01" lengthAdjust="spacingAndGlyphs" fill="#1c1c1c" stroke="#1c1c1c" stroke-width="0.17">40</text>
<text x="305.5" y="321.24" font-size="8.1" text-anchor="end" textLength="8.01" lengthAdjust="spacingAndGlyphs" fill="#1c1c1c" stroke="#1c1c1c" stroke-width="0.17">60</text>
<text x="305.5" y="298.02" font-size="8.1" text-anchor="end" textLength="8.01" lengthAdjust="spacingAndGlyphs" fill="#1c1c1c" stroke="#1c1c1c" stroke-width="0.17">80</text>
<text x="305.5" y="274.8" font-size="8.1" text-anchor="end" textLength="12.01" lengthAdjust="spacingAndGlyphs" fill="#1c1c1c" stroke="#1c1c1c" stroke-width="0.17">100</text>
<text x="313.5" y="401.3" font-size="8.1" text-anchor="middle" textLength="4" lengthAdjust="spacingAndGlyphs" fill="#1c1c1c" stroke="#1c1c1c" stroke-width="0.17">0</text>
<text x="345.5" y="401.3" font-size="8.1" text-anchor="middle" textLength="4" lengthAdjust="spacingAndGlyphs" fill="#1c1c1c" stroke="#1c1c1c" stroke-width="0.17">2</text>
<text x="377.5" y="401.3" font-size="8.1" text-anchor="middle" textLength="4" lengthAdjust="spacingAndGlyphs" fill="#1c1c1c" stroke="#1c1c1c" stroke-width="0.17">4</text>
<text x="409.5" y="401.3" font-size="8.1" text-anchor="middle" textLength="4" lengthAdjust="spacingAndGlyphs" fill="#1c1c1c" stroke="#1c1c1c" stroke-width="0.17">6</text>
<text x="441.5" y="401.3" font-size="8.1" text-anchor="middle" textLength="4" lengthAdjust="spacingAndGlyphs" fill="#1c1c1c" stroke="#1c1c1c" stroke-width="0.17">8</text>
<text x="473.5" y="401.3" font-size="8.1" text-anchor="middle" textLength="8.01" lengthAdjust="spacingAndGlyphs" fill="#1c1c1c" stroke="#1c1c1c" stroke-width="0.17">10</text>
<text x="505.5" y="401.3" font-size="8.1" text-anchor="middle" textLength="8.01" lengthAdjust="spacingAndGlyphs" fill="#1c1c1c" stroke="#1c1c1c" stroke-width="0.17">12</text>
<text x="411.5" y="414.7" font-size="9.4" text-anchor="middle" textLength="49.5" lengthAdjust="spacingAndGlyphs" fill="#1c1c1c" stroke="#1c1c1c" stroke-width="0.17">Time (years)</text>
<text x="0" y="0" font-size="9.4" text-anchor="middle" fill="#1c1c1c" stroke="#1c1c1c" stroke-width="0.17" textLength="64" lengthAdjust="spacingAndGlyphs" transform="translate(284.9 324) rotate(-90)">Percent survival</text>
<path d="M313.4 272.4H505" fill="none" stroke="#55709a" stroke-width="1.25"/>
<path d="M372.4 272.4v-3.3M413.8 272.4v-3.3M433.1 272.4v-3.3M446.2 272.4v-3.3M471.4 272.4v-3.3" fill="none" stroke="#55709a" stroke-width="1.0"/>
<path d="M313.4 272.4H353.3V278.7H412.3V300.5H444.5V322.5H505" fill="none" stroke="#74ab57" stroke-width="1.25"/>
<path d="M319.8 272.4v-3.3M322.7 272.4v-3.3M326.1 272.4v-3.3M327.3 272.4v-3.3M338.8 272.4v-3.3M340.2 272.4v-3.3M343.4 272.4v-3.3M348.6 272.4v-3.3M355.6 278.7v-3.3M367.5 278.7v-3.3M383.5 278.7v-3.3M390.1 278.7v-3.3M405.9 278.7v-3.3M415.4 300.5v-3.3M421.8 300.5v-3.3M433.1 300.5v-3.3M442.4 300.5v-3.3M497.1 322.5v-3.3" fill="none" stroke="#74ab57" stroke-width="1.0"/>
<path d="M313.4 272.4H357.3V276.4H381.8V281.5H401.3V286.6H425.4V294.1H447.6V302H455.6V310.6H505" fill="none" stroke="#a5304a" stroke-width="1.25"/>
<path d="M329.6 272.4v-3.3M330.8 272.4v-3.3M335.6 272.4v-3.3M345.2 272.4v-3.3M349.8 272.4v-3.3M359.6 276.4v-3.3M362.4 276.4v-3.3M364.9 276.4v-3.3M367.2 276.4v-3.3M369.2 276.4v-3.3M373.8 276.4v-3.3M385 281.5v-3.3M397.8 281.5v-3.3M399.1 281.5v-3.3M404.2 286.6v-3.3M407.4 286.6v-3.3M410.4 286.6v-3.3M415.4 286.6v-3.3M436.3 294.1v-3.3M449.1 302v-3.3M463.6 310.6v-3.3M469.9 310.6v-3.3M479.3 310.6v-3.3M490.5 310.6v-3.3M505 310.6v-3.3" fill="none" stroke="#a5304a" stroke-width="1.0"/>
<text x="320.1" y="322.5" font-size="7.4" text-anchor="start" textLength="31.5" lengthAdjust="spacingAndGlyphs" fill="#1c1c1c" stroke="#1c1c1c" stroke-width="0.17">5 Yr DDFS</text>
<text x="320.1" y="331.6" font-size="7.4" text-anchor="start" textLength="25.1" lengthAdjust="spacingAndGlyphs" fill="#1c1c1c" stroke="#1c1c1c" stroke-width="0.17">RT: 93%</text>
<text x="320.1" y="340.8" font-size="7.4" text-anchor="start" textLength="31.5" lengthAdjust="spacingAndGlyphs" fill="#1c1c1c" stroke="#1c1c1c" stroke-width="0.17">CMT: 95%</text>
<text x="320.1" y="349.7" font-size="7.4" text-anchor="start" textLength="29.2" lengthAdjust="spacingAndGlyphs" fill="#1c1c1c" stroke="#1c1c1c" stroke-width="0.17">ST: 100%</text>
<text x="320.1" y="372.5" font-size="7.4" text-anchor="start" textLength="65.7" lengthAdjust="spacingAndGlyphs" fill="#1c1c1c" stroke="#1c1c1c" stroke-width="0.17">All patients: p=0.396</text>
<text x="320.1" y="381.3" font-size="7.4" text-anchor="start" textLength="62" lengthAdjust="spacingAndGlyphs" fill="#1c1c1c" stroke="#1c1c1c" stroke-width="0.17">RT vs CMT: p=0.948</text>
<path d="M440 358.2H454.5M447.2 358.2v-2.6" fill="none" stroke="#a5304a" stroke-width="1.0"/>
<text x="457" y="359.5" font-size="7.3" text-anchor="start" textLength="30.4" lengthAdjust="spacingAndGlyphs" fill="#1c1c1c" stroke="#1c1c1c" stroke-width="0.17">RT (n=36)</text>
<path d="M440 369.5H454.5M447.2 369.5v-2.6" fill="none" stroke="#74ab57" stroke-width="1.0"/>
<text x="457" y="370.9" font-size="7.3" text-anchor="start" textLength="36.8" lengthAdjust="spacingAndGlyphs" fill="#1c1c1c" stroke="#1c1c1c" stroke-width="0.17">CMT (n=29)</text>
<path d="M440 380.9H454.5M447.2 380.9v-2.6" fill="none" stroke="#55709a" stroke-width="1.0"/>
<text x="457" y="382.3" font-size="7.3" text-anchor="start" textLength="25.8" lengthAdjust="spacingAndGlyphs" fill="#1c1c1c" stroke="#1c1c1c" stroke-width="0.17">ST (n=6)</text>
<text x="272.1" y="423.8" font-size="8" text-anchor="start" textLength="33.6" lengthAdjust="spacingAndGlyphs" fill="#1c1c1c" stroke="#1c1c1c" stroke-width="0.17">No. at risk</text>
<text x="272.1" y="433.2" font-size="8" text-anchor="start" textLength="9.2" lengthAdjust="spacingAndGlyphs" fill="#1c1c1c" stroke="#1c1c1c" stroke-width="0.17">RT</text>
<text x="313.4" y="434.2" font-size="8" text-anchor="middle" textLength="7.79" lengthAdjust="spacingAndGlyphs" fill="#1c1c1c" stroke="#1c1c1c" stroke-width="0.17">36</text>
<text x="345.4" y="434.2" font-size="8" text-anchor="middle" textLength="7.79" lengthAdjust="spacingAndGlyphs" fill="#1c1c1c" stroke="#1c1c1c" stroke-width="0.17">33</text>
<text x="377.4" y="434.2" font-size="8" text-anchor="middle" textLength="7.79" lengthAdjust="spacingAndGlyphs" fill="#1c1c1c" stroke="#1c1c1c" stroke-width="0.17">25</text>
<text x="409.4" y="434.2" font-size="8" text-anchor="middle" textLength="7.79" lengthAdjust="spacingAndGlyphs" fill="#1c1c1c" stroke="#1c1c1c" stroke-width="0.17">17</text>
<text x="441.4" y="434.2" font-size="8" text-anchor="middle" textLength="7.79" lengthAdjust="spacingAndGlyphs" fill="#1c1c1c" stroke="#1c1c1c" stroke-width="0.17">13</text>
<text x="473.4" y="434.2" font-size="8" text-anchor="middle" textLength="3.89" lengthAdjust="spacingAndGlyphs" fill="#1c1c1c" stroke="#1c1c1c" stroke-width="0.17">8</text>
<text x="505.4" y="434.2" font-size="8" text-anchor="middle" textLength="3.89" lengthAdjust="spacingAndGlyphs" fill="#1c1c1c" stroke="#1c1c1c" stroke-width="0.17">5</text>
<text x="272.1" y="443.1" font-size="8" text-anchor="start" textLength="15.16" lengthAdjust="spacingAndGlyphs" fill="#1c1c1c" stroke="#1c1c1c" stroke-width="0.17">CMT</text>
<text x="313.4" y="444.1" font-size="8" text-anchor="middle" textLength="7.79" lengthAdjust="spacingAndGlyphs" fill="#1c1c1c" stroke="#1c1c1c" stroke-width="0.17">29</text>
<text x="345.4" y="444.1" font-size="8" text-anchor="middle" textLength="7.79" lengthAdjust="spacingAndGlyphs" fill="#1c1c1c" stroke="#1c1c1c" stroke-width="0.17">21</text>
<text x="377.4" y="444.1" font-size="8" text-anchor="middle" textLength="7.79" lengthAdjust="spacingAndGlyphs" fill="#1c1c1c" stroke="#1c1c1c" stroke-width="0.17">14</text>
<text x="409.4" y="444.1" font-size="8" text-anchor="middle" textLength="7.27" lengthAdjust="spacingAndGlyphs" fill="#1c1c1c" stroke="#1c1c1c" stroke-width="0.17">11</text>
<text x="441.4" y="444.1" font-size="8" text-anchor="middle" textLength="3.89" lengthAdjust="spacingAndGlyphs" fill="#1c1c1c" stroke="#1c1c1c" stroke-width="0.17">6</text>
<text x="473.4" y="444.1" font-size="8" text-anchor="middle" textLength="3.89" lengthAdjust="spacingAndGlyphs" fill="#1c1c1c" stroke="#1c1c1c" stroke-width="0.17">4</text>
<text x="505.4" y="444.1" font-size="8" text-anchor="middle" textLength="3.89" lengthAdjust="spacingAndGlyphs" fill="#1c1c1c" stroke="#1c1c1c" stroke-width="0.17">3</text>
<text x="272.1" y="452.8" font-size="8" text-anchor="start" textLength="8.94" lengthAdjust="spacingAndGlyphs" fill="#1c1c1c" stroke="#1c1c1c" stroke-width="0.17">ST</text>
<text x="313.4" y="453.8" font-size="8" text-anchor="middle" textLength="3.89" lengthAdjust="spacingAndGlyphs" fill="#1c1c1c" stroke="#1c1c1c" stroke-width="0.17">6</text>
<text x="345.4" y="453.8" font-size="8" text-anchor="middle" textLength="3.89" lengthAdjust="spacingAndGlyphs" fill="#1c1c1c" stroke="#1c1c1c" stroke-width="0.17">6</text>
<text x="377.4" y="453.8" font-size="8" text-anchor="middle" textLength="3.89" lengthAdjust="spacingAndGlyphs" fill="#1c1c1c" stroke="#1c1c1c" stroke-width="0.17">6</text>
<text x="409.4" y="453.8" font-size="8" text-anchor="middle" textLength="3.89" lengthAdjust="spacingAndGlyphs" fill="#1c1c1c" stroke="#1c1c1c" stroke-width="0.17">6</text>
<text x="441.4" y="453.8" font-size="8" text-anchor="middle" textLength="3.89" lengthAdjust="spacingAndGlyphs" fill="#1c1c1c" stroke="#1c1c1c" stroke-width="0.17">4</text>
<text x="473.4" y="453.8" font-size="8" text-anchor="middle" textLength="3.89" lengthAdjust="spacingAndGlyphs" fill="#1c1c1c" stroke="#1c1c1c" stroke-width="0.17">2</text>
<text x="505.4" y="453.8" font-size="8" text-anchor="middle" textLength="3.89" lengthAdjust="spacingAndGlyphs" fill="#1c1c1c" stroke="#1c1c1c" stroke-width="0.17">2</text>
<rect x="0" y="467" width="520" height="1" fill="#050505"/>
<rect x="0" y="0" width="1" height="468" fill="#545454"/>
<rect x="1" y="0" width="1" height="467" fill="#a4a4a4"/>
<rect x="519" y="0" width="1" height="468" fill="#545454"/>
<rect x="518" y="0" width="1" height="467" fill="#a4a4a4"/>
<rect x="0" y="0" width="520" height="1" fill="#050505"/>
</svg></body></html>
